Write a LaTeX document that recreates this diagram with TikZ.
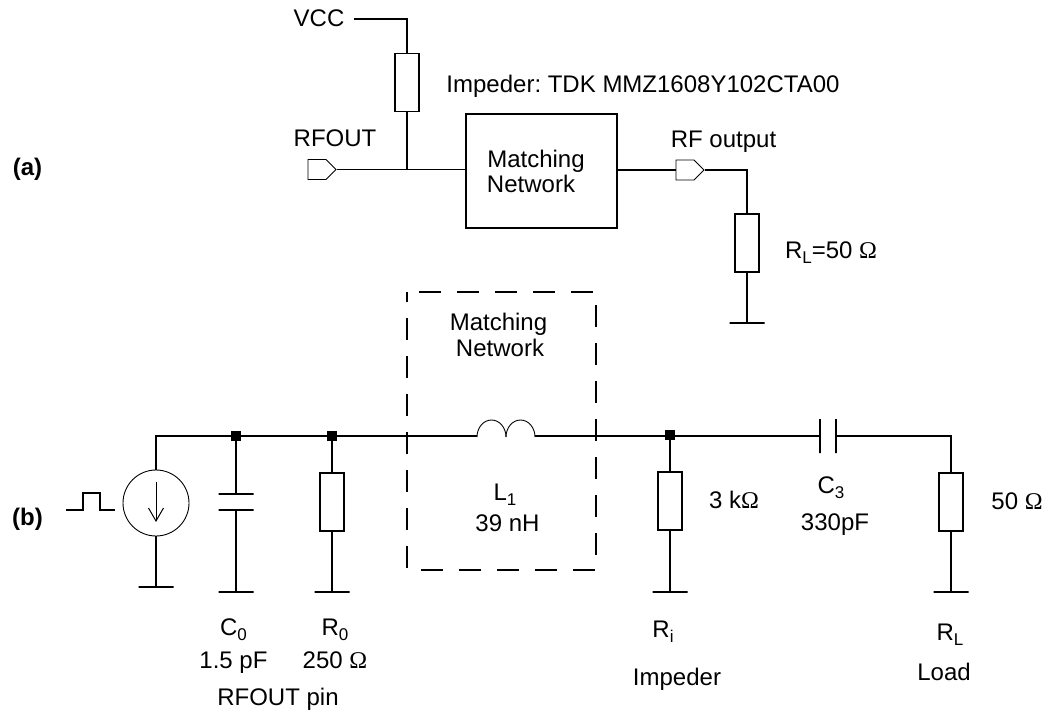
\documentclass[tikz,border=0pt]{standalone}
\usepackage{fontspec}
\setmainfont{Liberation Sans}
\newfontfamily\ohmfont{Liberation Serif}
\newcommand{\ohm}{{\ohmfont Ω}}
\newcommand{\lowsub}[1]{\raisebox{-5pt}{\fontsize{17}{17}\selectfont #1}}
\usetikzlibrary{shapes.symbols,arrows.meta}
\frenchspacing

\begin{document}
\begin{tikzpicture}[
    x=1pt, y=-1pt,
    wire/.style={line width=1.5pt},
    res/.style={draw, line width=1.5pt, fill=white, minimum width=24pt, minimum height=58pt, inner sep=0pt},
    gnd/.style={draw, line width=1.5pt, minimum width=35pt, minimum height=0pt, inner sep=0pt},
    platev/.style={draw, line width=1.5pt, minimum width=0pt, minimum height=34pt, inner sep=0pt},
    dotj/.style={fill=black, minimum size=10pt, inner sep=0pt},
    port/.style={draw, line width=0.9pt, signal, signal to=east, minimum width=28pt, minimum height=20pt, inner sep=0pt},
    lbl/.style={font=\fontsize{24}{26}\selectfont, inner sep=0pt, anchor=base},
    tag/.style={lbl, font=\fontsize{24}{26}\selectfont\bfseries},
  ]
  \useasboundingbox (0,0) rectangle (1047,712);

  % (a)
  \node[tag] (tagA) at (27.5,175) {(a)};
  \node[lbl] (vcc) at (319,26) {VCC};
  \coordinate (vccEnd) at (354,19);
  \coordinate (vccCorner) at (407,19);
  \node[res] (imp) at (407,82.5) {};
  \coordinate (rfJoin) at (407,169.5);
  \node[port] (rfout) at (317,169.5) {};
  \node[lbl] (rfoutTxt) at (335,146) {RFOUT};
  \node[lbl] (impTxt) at (643,92) {Impeder: TDK MMZ1608Y102CTA00};
  \node[draw, line width=1.5pt, minimum width=151pt, minimum height=114pt] (mn) at (541.5,171) {};
  \node[lbl] (mnTxtA) at (536,167) {Matching};
  \node[lbl] (mnTxtB) at (531,192) {Network};
  \node[port] (rfoutB) at (685,170) {};
  \node[lbl] (rfTxt) at (723.5,147) {RF output};
  \coordinate (rlCorner) at (747,170);
  \node[res] (rla) at (747,243) {};
  \node[lbl] (rlaTxt) at (831,258) {R\lowsub{L}=50 \ohm};
  \node[gnd] (gA) at (747,323) {};

  \draw[wire] (vccEnd) -- (vccCorner) -- (imp.north);
  \draw[wire] (imp.south) -- (rfJoin);
  \draw[wire] (rfout.east) -- (mn.west |- rfout.east);
  \draw[wire] (mn.east |- rfoutB.west) -- (rfoutB.west);
  \draw[wire] (rfoutB.east) -- (rlCorner) -- (rla.north);
  \draw[wire] (rla.south) -- (gA.center);

  % (b)
  \node[tag] (tagB) at (27.5,525) {(b)};
  \draw[line width=1.5pt, dash pattern=on 22pt off 16pt, dash phase=12pt] (407,292) rectangle (596,570);
  \node[lbl] (dnTxtA) at (498.5,330) {Matching};
  \node[lbl] (dnTxtB) at (500,356) {Network};

  \node[draw, circle, line width=0.9pt, minimum size=66pt, inner sep=0pt] (src) at (156,503) {};
  \coordinate (srcTop) at (156,436);
  \node[gnd] (gSrc) at (156,587) {};
  \coordinate (pulseIn) at (66,510);
  \coordinate (pulseOut) at (115,510);
  \coordinate (arrowTop) at (156,482);
  \coordinate (arrowEnd) at (156,522);

  \node[dotj] (j0) at (236,436) {};
  \node[gnd] (c0top) at (236,494) {};
  \node[gnd] (c0bot) at (236,510) {};
  \node[gnd] (gC0) at (236,592) {};

  \node[dotj] (j1) at (332,436) {};
  \node[res] (r0) at (332,502) {};
  \node[gnd] (gR0) at (332,592) {};

  \coordinate (l1in) at (477,437);
  \coordinate (l1mid) at (506,437);
  \coordinate (l1out) at (535,436);

  \node[dotj] (j2) at (670,435) {};
  \node[res] (ri) at (670,501) {};
  \node[gnd] (gRi) at (670,592) {};

  \node[platev] (c3l) at (820,436) {};
  \node[platev] (c3r) at (836,436) {};
  \coordinate (rlTop) at (951,436);
  \node[res] (rl) at (951,502) {};
  \node[gnd] (gRl) at (951,592) {};

  \draw[wire] (src.north) -- (srcTop) -- (j0.center) -- (j1.center) -- (l1in |- j1);
  \draw[line width=0.9pt] (l1in) arc[start angle=180, end angle=0, x radius=14.5pt, y radius=17pt];
  \draw[line width=0.9pt] (l1mid) arc[start angle=180, end angle=0, x radius=14.5pt, y radius=17pt];
  \draw[wire] (l1out) -- (c3l.center);
  \draw[wire] (c3r.center) -- (rlTop) -- (rl.north);
  \draw[wire] (src.south) -- (gSrc.center);
  \draw[wire] (j0.center) -- (c0top.center);
  \draw[wire] (c0bot.center) -- (gC0.center);
  \draw[wire] (j1.center) -- (r0.north);
  \draw[wire] (r0.south) -- (gR0.center);
  \draw[wire] (j2.center) -- (ri.north);
  \draw[wire] (ri.south) -- (gRi.center);
  \draw[wire] (rl.south) -- (gRl.center);
  \draw[wire] (pulseIn) -- ++(17,0) -- ++(0,-17) -- ++(17,0) -- ++(0,17) -- (pulseOut);
  \draw[-{Straight Barb[length=13pt,width=15pt]}, line width=1pt] (arrowTop) -- (arrowEnd);

  \node[lbl] (c0Txt) at (233.5,635) {C\lowsub{0}};
  \node[lbl] (c0Val) at (233.5,668) {1.5 pF};
  \node[lbl] (r0Txt) at (335,635) {R\lowsub{0}};
  \node[lbl] (r0Val) at (335,668) {250 \ohm};
  \node[lbl] (pinTxt) at (278,705) {RFOUT pin};
  \node[lbl] (l1Txt) at (505,500) {L\lowsub{1}};
  \node[lbl] (l1Val) at (507.5,531) {39 nH};
  \node[lbl] (riTxt) at (663,637) {R\lowsub{i}};
  \node[lbl] (impLbl) at (677,685) {Impeder};
  \node[lbl] (ki) at (734,508) {3 k\ohm};
  \node[lbl] (c3Txt) at (831,493) {C\lowsub{3}};
  \node[lbl] (c3Val) at (835,530) {330pF};
  \node[lbl] (fifty) at (1017,509) {50 \ohm};
  \node[lbl] (rlTxt) at (950,640) {R\lowsub{L}};
  \node[lbl] (loadTxt) at (944,680) {Load};
\end{tikzpicture}
\end{document}
